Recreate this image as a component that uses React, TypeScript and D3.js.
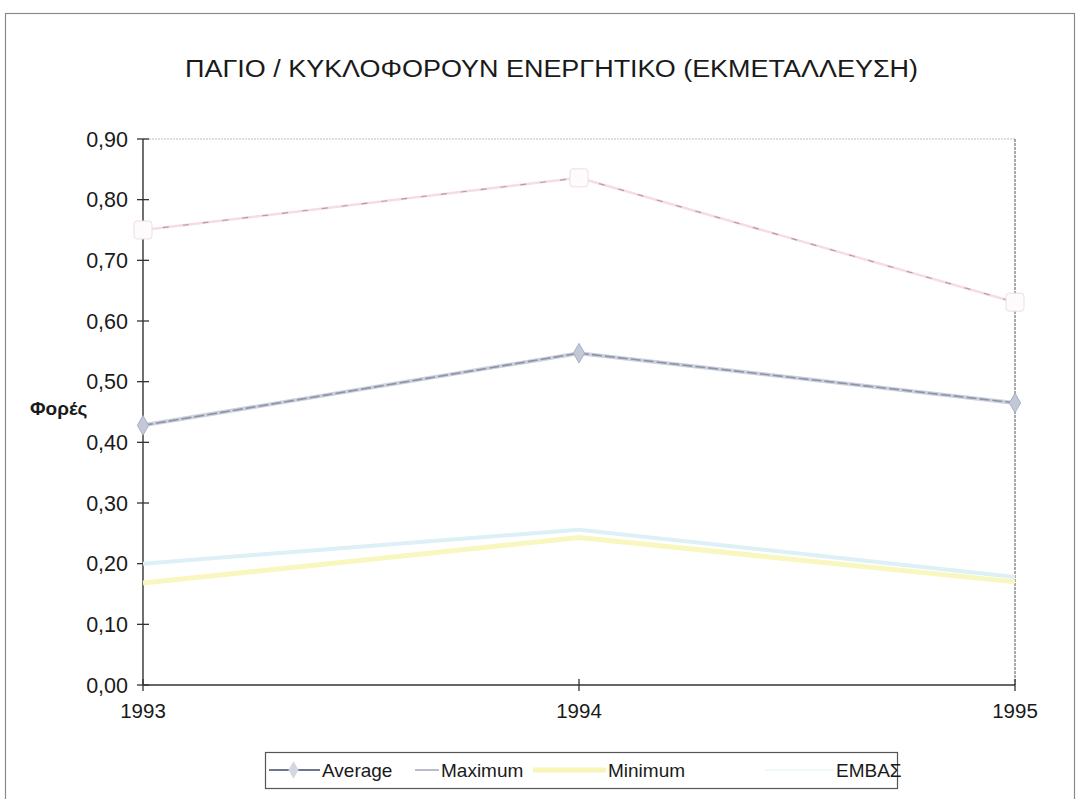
import React, { useEffect, useRef } from 'react';
import * as d3 from 'd3';

// Data
const years = ['1993', '1994', '1995'];
const averageValues = [0.428, 0.547, 0.465];
const maximumValues = [0.75, 0.836, 0.631];
const minimumValues = [0.168, 0.243, 0.17];
const embasValues = [0.2, 0.256, 0.178];
const yTicks = [0, 0.1, 0.2, 0.3, 0.4, 0.5, 0.6, 0.7, 0.8, 0.9];

const seriesNames = ['Average', 'Maximum', 'Minimum', 'ΕΜΒΑΣ'];

const title = 'ΠΑΓΙΟ / ΚΥΚΛΟΦΟΡΟΥΝ ΕΝΕΡΓΗΤΙΚΟ (ΕΚΜΕΤΑΛΛΕΥΣΗ)';
const yLabel = 'Φορές';

const W = 1080;
const H = 799;

const App: React.FC = () => {
  const svgRef = useRef<SVGSVGElement>(null);

  useEffect(() => {
    if (!svgRef.current) return;
    const root = d3.select(svgRef.current);
    root.selectAll('*').remove();

    const font = '"Liberation Sans", Arial, sans-serif';
    const margin = { top: 139, right: 65, bottom: 114, left: 143 };
    const innerW = W - margin.left - margin.right;
    const innerH = H - margin.top - margin.bottom;

    // outer frame
    root
      .append('rect')
      .attr('x', 5.5)
      .attr('y', 13.5)
      .attr('width', 1069)
      .attr('height', 790)
      .attr('fill', 'white')
      .attr('stroke', '#8a8a8a')
      .attr('stroke-width', 1.2);

    // title
    root
      .append('text')
      .attr('x', 185)
      .attr('y', 77)
      .attr('textLength', 733)
      .attr('lengthAdjust', 'spacingAndGlyphs')
      .style('font-family', font)
      .style('font-size', '23px')
      .style('fill', '#1a1a1a')
      .text(title);

    const g = root.append('g').attr('transform', `translate(${margin.left},${margin.top})`);

    const x = d3.scalePoint<string>().domain(years).range([0, innerW]);
    const y = d3.scaleLinear().domain([0, 0.9]).range([innerH, 0]);

    // plot area border (top / right, light dotted)
    g.append('line')
      .attr('x1', 0).attr('x2', innerW).attr('y1', 0).attr('y2', 0)
      .attr('stroke', '#bdbdbd').attr('stroke-width', 1.2).attr('stroke-dasharray', '2,1');
    g.append('line')
      .attr('x1', innerW).attr('x2', innerW).attr('y1', 0).attr('y2', innerH)
      .attr('stroke', '#8c8c8c').attr('stroke-width', 1.5).attr('stroke-dasharray', '3,1');

    // Y axis with cross ticks
    const yAxis = g.append('g');
    yAxis.append('line')
      .attr('x1', 0).attr('x2', 0).attr('y1', 0).attr('y2', innerH)
      .attr('stroke', '#333').attr('stroke-width', 1.4);
    yAxis.selectAll('.ytick')
      .data(yTicks)
      .join('line')
      .attr('x1', -6).attr('x2', 6)
      .attr('y1', d => y(d)).attr('y2', d => y(d))
      .attr('stroke', '#333').attr('stroke-width', 1.3);
    yAxis.selectAll('.ylab')
      .data(yTicks)
      .join('text')
      .attr('x', -15)
      .attr('y', d => y(d) + 7.5)
      .attr('text-anchor', 'end')
      .style('font-family', font)
      .style('font-size', '21.5px')
      .style('fill', '#1a1a1a')
      .text(d => d3.format('.2f')(d).replace('.', ','));

    // X axis
    const xAxis = g.append('g').attr('transform', `translate(0,${innerH})`);
    xAxis.append('line')
      .attr('x1', 0).attr('x2', innerW).attr('y1', 0).attr('y2', 0)
      .attr('stroke', '#333').attr('stroke-width', 1.4);
    xAxis.selectAll('.xtick')
      .data(years)
      .join('line')
      .attr('x1', d => x(d) || 0).attr('x2', d => x(d) || 0)
      .attr('y1', -6).attr('y2', 6)
      .attr('stroke', '#333').attr('stroke-width', 1.3);
    xAxis.selectAll('.xlab')
      .data(years)
      .join('text')
      .attr('x', d => x(d) || 0)
      .attr('y', 33)
      .attr('text-anchor', 'middle')
      .style('font-family', font)
      .style('font-size', '20.5px')
      .style('fill', '#1a1a1a')
      .text(d => d);

    // Y label
    root.append('text')
      .attr('x', 30)
      .attr('y', 415)
      .style('font-family', font)
      .style('font-size', '19px')
      .style('font-weight', 'bold')
      .style('fill', '#1a1a1a')
      .text(yLabel);

    const line = d3
      .line<number>()
      .x((_, i) => x(years[i]) || 0)
      .y(d => y(d));

    // Minimum
    g.append('path')
      .datum(minimumValues)
      .attr('fill', 'none')
      .attr('stroke', '#f8f7bf')
      .attr('stroke-width', 5)
      .attr('d', line);

    // ΕΜΒΑΣ
    g.append('path')
      .datum(embasValues)
      .attr('fill', 'none')
      .attr('stroke', '#dcf0f6')
      .attr('stroke-width', 4)
      .attr('d', line);

    // Average
    g.append('path')
      .datum(averageValues)
      .attr('fill', 'none')
      .attr('stroke', '#cdd1de')
      .attr('stroke-width', 4)
      .attr('d', line);
    g.append('path')
      .datum(averageValues)
      .attr('fill', 'none')
      .attr('stroke', '#8d93a8')
      .attr('stroke-width', 1.6)
      .attr('stroke-dasharray', '10,3')
      .attr('d', line);
    g.selectAll('.avgdot')
      .data(averageValues)
      .join('path')
      .attr('transform', (d, i) => `translate(${x(years[i])},${y(d)})`)
      .attr('d', d3.symbol(d3.symbolDiamond, 110)())
      .attr('fill', '#c3c8d8')
      .attr('stroke', '#a9afc3')
      .attr('stroke-width', 1);

    // Maximum
    g.append('path')
      .datum(maximumValues)
      .attr('fill', 'none')
      .attr('stroke', '#f5dde3')
      .attr('stroke-width', 2.5)
      .attr('d', line);
    g.append('path')
      .datum(maximumValues)
      .attr('fill', 'none')
      .attr('stroke', '#b89aa6')
      .attr('stroke-width', 1.2)
      .attr('stroke-dasharray', '6,14')
      .attr('d', line);
    g.selectAll('.maxdot')
      .data(maximumValues)
      .join('rect')
      .attr('x', (_, i) => (x(years[i]) || 0) - 9)
      .attr('y', d => y(d) - 9)
      .attr('width', 18)
      .attr('height', 18)
      .attr('rx', 3)
      .attr('fill', '#fdfbfc')
      .attr('stroke', '#f0dde2')
      .attr('stroke-width', 1);

    // Legend
    const legend = root.append('g').attr('transform', 'translate(265,752)');
    legend.append('rect')
      .attr('x', 0.5).attr('y', 0.5)
      .attr('width', 632).attr('height', 36)
      .attr('fill', 'white')
      .attr('stroke', '#555')
      .attr('stroke-width', 1.2);

    const legendX = [4, 150, 268, 500];
    const legendColors = ['#6f758a', '#b9bcc9', '#f7f6b8', '#eef7fa'];
    const legendTextX = [57, 176, 343, 571];
    seriesNames.forEach((name, i) => {
      const row = legend.append('g');
      row.append('line')
        .attr('x1', legendX[i])
        .attr('x2', legendTextX[i] - 2)
        .attr('y1', 18)
        .attr('y2', 18)
        .attr('stroke', legendColors[i])
        .attr('stroke-width', i === 2 ? 5 : 2);
      if (i === 0) {
        row.append('path')
          .attr('transform', `translate(${(legendX[i] + legendTextX[i]) / 2 - 2},18)`)
          .attr('d', d3.symbol(d3.symbolDiamond, 90)())
          .attr('fill', '#d3d7e3');
      }
      row.append('text')
        .attr('x', legendTextX[i])
        .attr('y', 25)
        .style('font-family', font)
        .style('font-size', '19px')
        .style('fill', '#1a1a1a')
        .text(name);
    });
  }, []);

  return (
    <svg
      ref={svgRef}
      width={W}
      height={H}
      style={{ position: 'absolute', left: 0, top: 0, background: 'white' }}
    />
  );
};

export default App;
